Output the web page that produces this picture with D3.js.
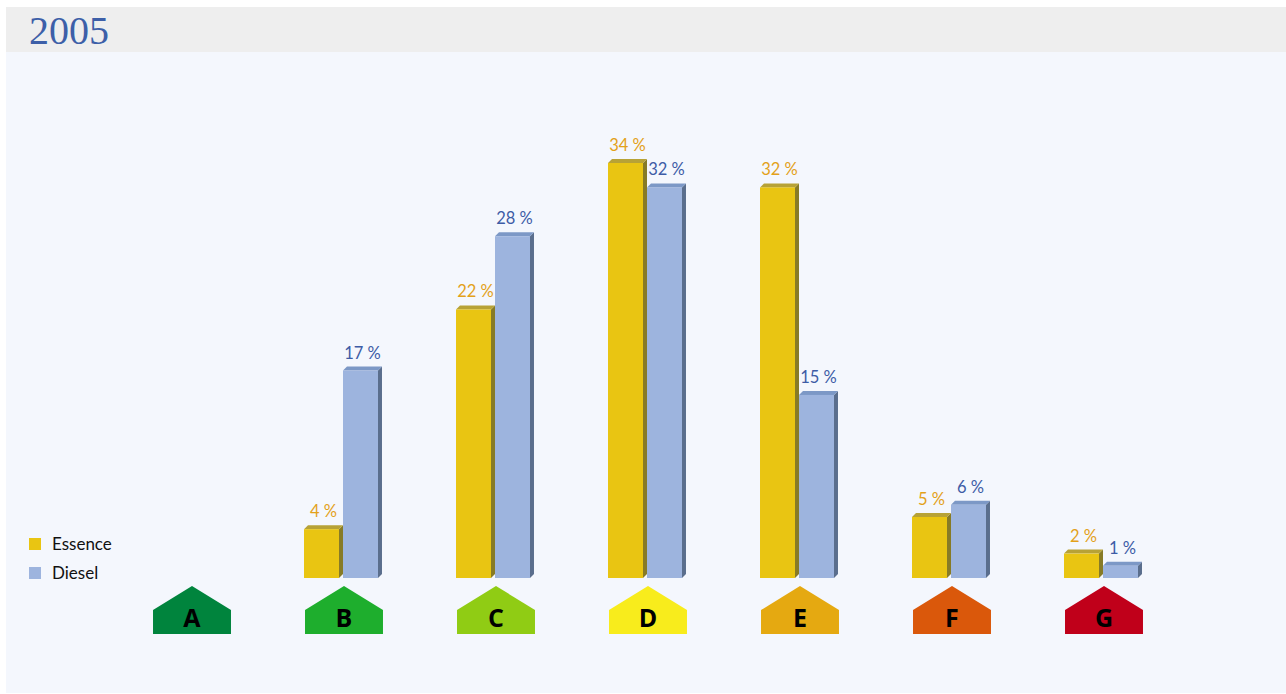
<!DOCTYPE html>
<html>
<head>
<meta charset="utf-8">
<script src="https://cdn.jsdelivr.net/npm/d3@7"></script>
<style>
  body { margin: 0; background: #ffffff; }
  svg { display: block; }
  .lbl { font-family: Lato, "Open Sans", sans-serif; font-size: 16.5px; }
  .legend text { font-family: Lato, "Open Sans", sans-serif; font-size: 17px; fill: #111; }
  .house text { font-family: "Open Sans", "DejaVu Sans", sans-serif; font-weight: bold; font-size: 25px; fill: #000; }
</style>
</head>
<body>
<div id="main"></div>
<script>
// Data
const title = '2005';
const categories = ['A', 'B', 'C', 'D', 'E', 'F', 'G'];
const essence = [0, 4, 22, 34, 32, 5, 2];
const diesel = [0, 17, 28, 32, 15, 6, 1];
const seriesNames = ['Essence', 'Diesel'];
const classColors = ['#00843d', '#1eae2d', '#90cc14', '#f8ec1c', '#e5a911', '#da580b', '#c0001a'];

// Size
const w = 1286;
const h = 694;
const base = 578;
const depth = 4;

// colours per series: front, top, side, label
const styles = {
    Essence: { front: '#e9c512', top: '#b7a236', side: '#877b26', label: '#e3a11a' },
    Diesel: { front: '#9db4de', top: '#7c98c6', side: '#5a6e8d', label: '#3d5ca6' }
};

const svg = d3.select('#main')
    .append('svg')
    .attr('width', w)
    .attr('height', h);

// background panels
svg.append('rect').attr('x', 6).attr('y', 7).attr('width', w - 6).attr('height', 45).attr('fill', '#eeeeee');
svg.append('rect').attr('x', 6).attr('y', 52).attr('width', w - 6).attr('height', 641).attr('fill', '#f4f7fd');

svg.append('text')
    .attr('x', 29)
    .attr('y', 44)
    .attr('font-family', '"Liberation Serif", "DejaVu Serif", serif')
    .attr('font-size', 40)
    .attr('fill', '#3d5fa8')
    .text(title);

const xScale = d3.scaleBand()
    .domain(categories)
    .range([116, 1180])
    .paddingInner(0.487)
    .paddingOuter(0.2435);

const xSub = d3.scaleBand()
    .domain(seriesNames)
    .range([0, xScale.bandwidth()]);

const yScale = d3.scaleLinear()
    .domain([0, 34])
    .range([base, 163]);

const barW = xSub.bandwidth() - depth;

const rows = [];
categories.forEach((c, i) => {
    rows.push({ cat: c, s: 'Essence', v: essence[i] });
    rows.push({ cat: c, s: 'Diesel', v: diesel[i] });
});
const bars = rows.filter((d) => d.v > 0);

const g = svg.selectAll('g.bar')
    .data(bars)
    .enter()
    .append('g')
    .attr('class', 'bar')
    .attr('transform', (d) => `translate(${xScale(d.cat) + xSub(d.s) - 1}, 0)`);

// side face
g.append('path')
    .attr('d', (d) => {
        const yt = yScale(d.v);
        return `M${barW},${yt} L${barW + depth},${yt - depth} L${barW + depth},${base - depth} L${barW},${base} Z`;
    })
    .attr('fill', (d) => styles[d.s].side);

// top face
g.append('path')
    .attr('d', (d) => {
        const yt = yScale(d.v);
        return `M0,${yt} L${depth},${yt - depth} L${barW + depth},${yt - depth} L${barW},${yt} Z`;
    })
    .attr('fill', (d) => styles[d.s].top);

// front face
g.append('rect')
    .attr('x', 0)
    .attr('y', (d) => yScale(d.v))
    .attr('width', barW)
    .attr('height', (d) => base - yScale(d.v))
    .attr('fill', (d) => styles[d.s].front);

g.append('text')
    .attr('class', 'lbl')
    .attr('x', (barW + depth) / 2)
    .attr('y', (d) => yScale(d.v) - 12)
    .attr('text-anchor', 'middle')
    .attr('fill', (d) => styles[d.s].label)
    .text((d) => `${d.v} %`);

// energy class houses
const hw = xScale.bandwidth();
const house = svg.selectAll('g.house')
    .data(categories)
    .enter()
    .append('g')
    .attr('class', 'house')
    .attr('transform', (d) => `translate(${xScale(d)}, 586)`);

house.append('path')
    .attr('d', `M0,24 L${hw / 2},0 L${hw},24 L${hw},48 L0,48 Z`)
    .attr('fill', (d, i) => classColors[i]);

house.append('text')
    .attr('x', hw / 2)
    .attr('y', 41)
    .attr('text-anchor', 'middle')
    .text((d) => d);

// legend
const legend = svg.selectAll('g.legend')
    .data(seriesNames)
    .enter()
    .append('g')
    .attr('class', 'legend')
    .attr('transform', (d, i) => `translate(29, ${538 + i * 29})`);

legend.append('rect')
    .attr('width', 12)
    .attr('height', 12)
    .attr('fill', (d) => styles[d].front);

legend.append('text')
    .attr('x', 23)
    .attr('y', 12)
    .text((d) => d);
</script>
</body>
</html>
